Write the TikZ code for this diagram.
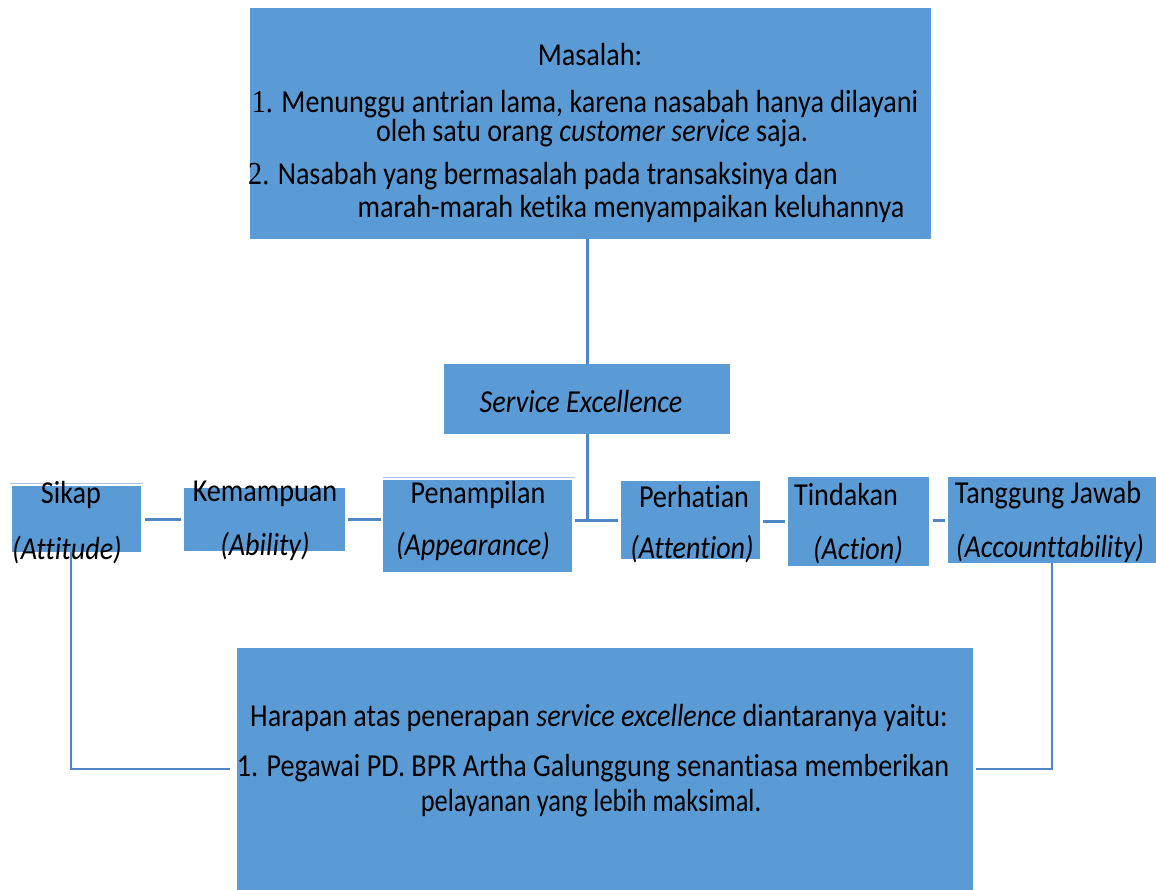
\documentclass[tikz,border=0pt]{standalone}
\usepackage{fontspec}
\setmainfont{Carlito}[FakeStretch=0.88, Ligatures=NoCommon]
\newfontfamily\numfont{Liberation Serif}[FakeStretch=0.88]
\definecolor{boxblue}{HTML}{5B9BD5}
\definecolor{lineblue}{HTML}{4F86C6}
\definecolor{faintblue}{HTML}{A9C6E8}
\begin{document}
\begin{tikzpicture}[x=1pt,y=-1pt,
  bluebox/.style={fill=boxblue, draw=none, inner sep=0pt, rectangle},
  txt/.style={inner sep=0pt, font=\fontsize{32}{36}\selectfont, text=black},
  link/.style={draw=lineblue, line width=3pt},
  longlink/.style={draw=lineblue, line width=2.5pt}]
\useasboundingbox (0,0) rectangle (1156,890);
% boxes
\node[bluebox, minimum width=681pt, minimum height=231pt] (top) at (590.5,123.5) {};
\node[bluebox, minimum width=286pt, minimum height=70pt] (se) at (587,399) {};
\node[bluebox, minimum width=129pt, minimum height=66pt] (sik) at (76.5,519) {};
\node[bluebox, minimum width=161pt, minimum height=63pt] (kem) at (264.5,519.5) {};
\node[bluebox, minimum width=189pt, minimum height=92pt] (pen) at (477.5,526) {};
\node[bluebox, minimum width=139pt, minimum height=78pt] (per) at (690.5,520) {};
\node[bluebox, minimum width=141pt, minimum height=89pt] (tin) at (858.5,521.5) {};
\node[bluebox, minimum width=208pt, minimum height=86pt] (tj) at (1052,520) {};
\node[bluebox, minimum width=736pt, minimum height=242pt] (bot) at (605,769) {};
% faint edge lines
\coordinate (fa1) at (10,483); \coordinate (fa2) at (143,483);
\coordinate (fb1) at (383,477); \coordinate (fb2) at (575,477);
\draw[faintblue, line width=1pt] (fa1) -- (fa2);
\draw[faintblue, line width=1pt] (fb1) -- (fb2);
% connectors
\draw[link] (se.north |- top.south) -- (se.north);
\draw[link] (se.south) -- (se.south |- per.west);
\draw[link, shorten <=4pt, shorten >=3pt] (sik.east) -- (sik.east -| kem.west);
\draw[link, shorten <=3pt, shorten >=2pt] (kem.east) -- (kem.east -| pen.west);
\draw[link, shorten <=3pt, shorten >=3pt] (pen.east |- per.west) -- (per.west);
\draw[link, shorten <=3pt, shorten >=3pt] (per.east |- tin.west) -- (tin.west);
\draw[link, shorten <=4pt, shorten >=3pt] (tin.east |- tj.west) -- (tj.west);
\coordinate (sikturn) at ([xshift=-5.5pt]sik.south |- bot.west);
\draw[longlink, shorten >=7pt] ([xshift=-5.5pt]sik.south) -- (sikturn) -- (bot.west);
\draw[longlink, shorten >=3pt] (tj.south) -- (tj.south |- bot.east) -- (bot.east);
% top texts
\node[txt] (t0) at (590,55) {Masalah:};
\node[txt] (t1) at (585,104) {{\numfont 1.} Menunggu antrian lama, karena nasabah hanya dilayani};
\node[txt] (t2) at (592,133) {oleh satu orang \textit{customer service} saja.};
\node[txt] (t3) at (543,176) {{\numfont 2.} Nasabah yang bermasalah pada transaksinya dan};
\node[txt] (t4) at (631,209) {marah-marah ketika menyampaikan keluhannya};
% middle texts
\node[txt] (s0) at (581,401) {\textit{Service Excellence}};
\node[txt] (a1) at (71,495) {Sikap};
\node[txt] (a2) at (67,550) {\textit{(Attitude)}};
\node[txt] (b1) at (265,494) {Kemampuan};
\node[txt] (b2) at (265,546) {\textit{(Ability)}};
\node[txt] (c1) at (478,495) {Penampilan};
\node[txt] (c2) at (473,546) {\textit{(Appearance)}};
\node[txt] (d1) at (694,497) {Perhatian};
\node[txt] (d2) at (692,549) {\textit{(Attention)}};
\node[txt] (e1) at (846,495) {Tindakan};
\node[txt] (e2) at (858,550) {\textit{(Action)}};
\node[txt] (f1) at (1048,495) {Tanggung Jawab};
\node[txt] (f2) at (1050,548) {\textit{(Accounttability)}};
% bottom texts
\node[txt] (h0) at (599,718) {Harapan atas penerapan \textit{service excellence} diantaranya yaitu:};
\node[txt] (h1) at (593,768) {1. Pegawai PD. BPR Artha Galunggung senantiasa memberikan};
\node[txt, xscale=0.94] (h2) at (591,803) {pelayanan yang lebih maksimal.};
\end{tikzpicture}
\end{document}
